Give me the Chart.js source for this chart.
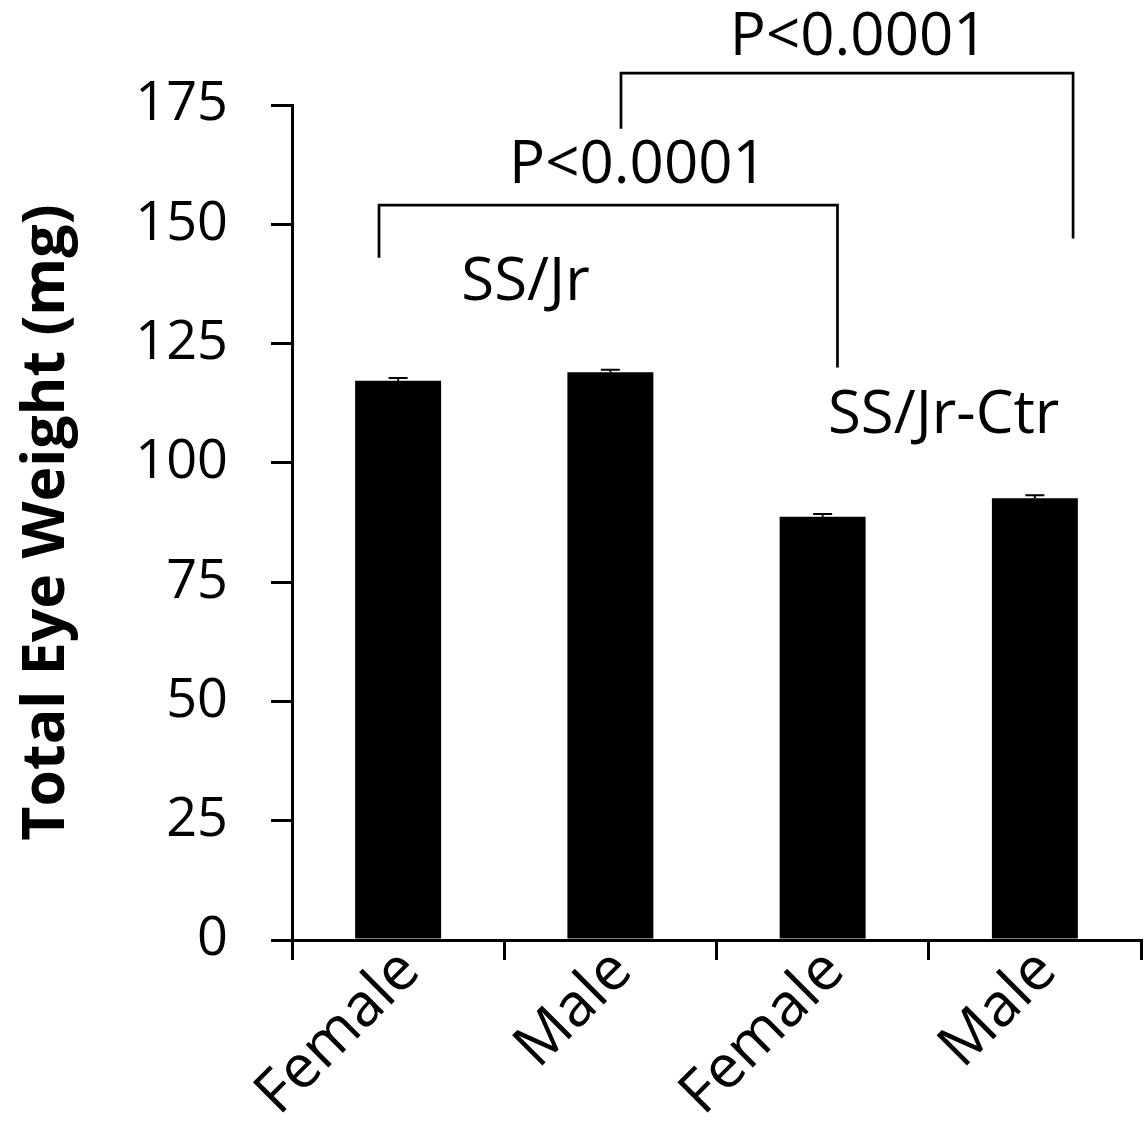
<!DOCTYPE html>
<html>
<head>
<meta charset="utf-8">
<script src="https://cdn.jsdelivr.net/npm/chart.js@4.4.1/dist/chart.umd.min.js"></script>
<style>
  body { margin: 0; background: #fff; }
  #wrap { width: 1144px; height: 1127px; }
</style>
</head>
<body>
<div id="wrap"><canvas id="bar-chart"></canvas></div>
<script>
const categories = ['Female', 'Male', 'Female', 'Male'];
const eyeWeight = [117.2, 119.0, 88.7, 92.6];
const eyeWeightSE = [0.6, 0.5, 0.6, 0.6];
const yTicks = [0, 25, 50, 75, 100, 125, 150, 175];

// significance brackets, in category index / mg units
const bracketStart = [-0.09, 1.05];
const bracketEnd = [2.07, 3.18];
const bracketTop = [154, 181.7];
const bracketStartLeg = [143, 170];
const bracketEndLeg = [120, 147];
const bracketLabel = ['P<0.0001', 'P<0.0001'];
const bracketLabelX = [1.13, 2.17];
const bracketLabelY = [158.7, 185.5];

const groupNames = ['SS/Jr', 'SS/Jr-Ctr'];
const groupNameX = [0.6, 2.57];
const groupNameY = [134.2, 106.3];

const FONT = '"Open Sans", "Liberation Sans", sans-serif';

const errorBars = {
  id: 'errorBars',
  afterDatasetsDraw(chart) {
    const ctx = chart.ctx;
    const y = chart.scales.y;
    const meta = chart.getDatasetMeta(0);
    ctx.save();
    ctx.strokeStyle = '#000';
    ctx.lineWidth = 2;
    meta.data.forEach((bar, i) => {
      const top = y.getPixelForValue(eyeWeight[i] + eyeWeightSE[i]);
      ctx.beginPath();
      ctx.moveTo(bar.x, bar.y);
      ctx.lineTo(bar.x, top);
      ctx.moveTo(bar.x - 9.5, top);
      ctx.lineTo(bar.x + 9.5, top);
      ctx.stroke();
    });
    ctx.restore();
  }
};

const annotations = {
  id: 'annotations',
  afterDraw(chart) {
    const ctx = chart.ctx;
    const x = chart.scales.x;
    const y = chart.scales.y;
    const step = x.getPixelForValue(1) - x.getPixelForValue(0);
    const px = v => x.getPixelForValue(0) + v * step;
    ctx.save();
    ctx.strokeStyle = '#000';
    ctx.lineWidth = 2.7;
    ctx.fillStyle = '#000';
    ctx.font = '60px ' + FONT;
    ctx.textAlign = 'center';
    ctx.textBaseline = 'alphabetic';
    for (let i = 0; i < bracketStart.length; i++) {
      const x0 = px(bracketStart[i]);
      const x1 = px(bracketEnd[i]);
      const yt = y.getPixelForValue(bracketTop[i]);
      ctx.beginPath();
      ctx.moveTo(x0, y.getPixelForValue(bracketStartLeg[i]));
      ctx.lineTo(x0, yt);
      ctx.lineTo(x1, yt);
      ctx.lineTo(x1, y.getPixelForValue(bracketEndLeg[i]));
      ctx.stroke();
      ctx.fillText(bracketLabel[i], px(bracketLabelX[i]), y.getPixelForValue(bracketLabelY[i]));
    }
    for (let i = 0; i < groupNames.length; i++) {
      ctx.fillText(groupNames[i], px(groupNameX[i]), y.getPixelForValue(groupNameY[i]));
    }
    ctx.restore();
  }
};

const ctx = document.getElementById('bar-chart').getContext('2d');
const myChart = new Chart(ctx, {
  type: 'bar',
  data: {
    labels: categories,
    datasets: [{
      data: eyeWeight,
      backgroundColor: '#000',
      borderWidth: 0,
      barPercentage: 0.405,
      categoryPercentage: 1
    }]
  },
  options: {
    responsive: true,
    maintainAspectRatio: false,
    animation: false,
    layout: { padding: { top: 105, right: 3, bottom: 0, left: 0 } },
    plugins: {
      legend: { display: false },
      tooltip: { enabled: false }
    },
    scales: {
      x: {
        grid: { offset: true, drawOnChartArea: false, drawTicks: true, tickLength: 20, color: '#000', lineWidth: 3 },
        border: { color: '#000', width: 3 },
        ticks: { color: '#000', font: { family: FONT, size: 60 }, maxRotation: 45, minRotation: 45, padding: -24, labelOffset: 12 },
        afterFit(scale) { scale.height = 187; }
      },
      y: {
        min: 0,
        max: 175,
        afterBuildTicks(scale) { scale.ticks = yTicks.map(v => ({ value: v })); },
        grid: { drawOnChartArea: false, drawTicks: true, tickLength: 21, color: '#000', lineWidth: 3 },
        border: { color: '#000', width: 3 },
        ticks: { color: '#000', font: { family: FONT, size: 54 }, padding: 43 },
        title: {
          display: true,
          text: 'Total Eye Weight (mg)',
          color: '#000',
          font: { family: FONT, size: 59, weight: 'bold' },
          padding: { top: 12, bottom: 0 }
        },
        afterFit(scale) { scale.width = 292; }
      }
    }
  },
  plugins: [errorBars, annotations]
});
</script>
</body>
</html>
